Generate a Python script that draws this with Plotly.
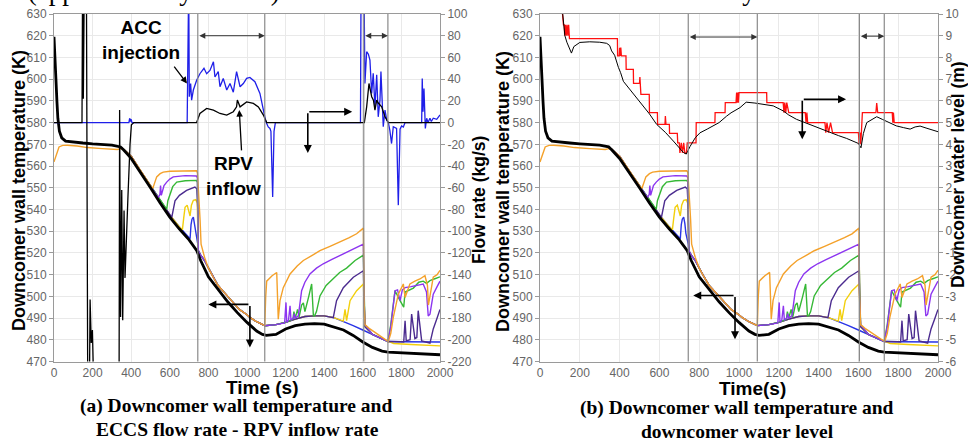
import plotly.graph_objects as go

W, H = 968, 441

# ---------------- data ----------------
TIME_TICKS = list(range(0, 2001, 200))
TEMP_TICKS = list(range(470, 631, 10))
FLOW_TICKS = list(range(-220, 101, 20))
LEVEL_TICKS = list(range(-6, 11, 1))
EVENT_TIMES = [745, 1092, 1605, 1730]

# Downcomer wall temperature (thick black), K
DCW_T = [0, 5, 10, 15, 20, 28, 40, 60, 100, 150, 200, 250, 300, 345, 360, 400, 450, 500, 550, 600, 650,
         700, 740, 760, 800, 850, 900, 950, 1000, 1050, 1080, 1100, 1150, 1200, 1250, 1300, 1350, 1400,
         1450, 1500, 1550, 1600, 1650, 1700, 1730, 1800, 1900, 2000]
DCW_V = [619.5, 612, 600, 590, 582, 576, 573, 571.5, 571, 570.6, 570.2, 570, 569.6, 568.8, 567.5, 563.5,
         557, 550, 543, 536.5, 531, 526, 521, 516.5, 509, 503, 497.5, 492.5, 488, 484, 482.5, 482, 482.5,
         485, 486.5, 487.2, 487.4, 487.2, 486, 484.5, 482, 479, 476.5, 474.8, 474.3, 474, 473.6, 473.1]

# shared segments of the thermocouple curves
DESC = [(350, 568.5), (400, 564.5), (450, 557.5), (500, 551), (550, 544), (600, 537.5), (650, 532), (700, 527)]
MID = [(748, 521), (760, 519), (780, 516.5), (800, 513), (825, 508.8), (850, 505), (900, 500), (929, 497.2),
       (960, 494), (1000, 491.5), (1015, 490.3), (1050, 488.3), (1085, 486.5), (1092, 486.5)]
BASE_LATE = [(1150, 487), (1200, 488), (1250, 489.5), (1300, 490.7), (1350, 491), (1400, 491), (1450, 490.2),
             (1500, 488.5), (1550, 486.5), (1600, 484.5)]
BASE_END = [(1650, 482.5), (1700, 480.5), (1730, 479.2)]
BASE_TAIL = [(1800, 479.1), (1900, 479), (2000, 479)]

ORANGE = [(0, 561.9), (8, 564), (14, 566), (26, 568.8), (45, 569.5), (69, 569.6), (120, 569.2), (173, 568.5),
          (250, 568), (328, 567.6), (345, 568), (360, 567.8), (400, 564.5), (450, 557.5), (500, 551),
          (512, 549.7), (520, 552), (532, 555), (550, 556.5), (566, 557.2), (600, 557.6), (653, 557.8),
          (700, 558), (738, 557.8), (743, 557), (748, 545), (752, 543), (757, 535), (762, 524), (780, 518),
          (800, 513), (825, 508.8), (850, 505), (900, 500), (929, 497.2), (960, 494), (1000, 491.5),
          (1015, 490.3), (1050, 488.3), (1085, 486.5), (1092, 486.5), (1097, 500), (1102, 507), (1130, 509.5),
          (1154, 511), (1162, 489.5), (1171, 498), (1188, 504), (1223, 510.3), (1260, 514), (1292, 516.5),
          (1340, 519), (1378, 521), (1430, 523), (1482, 525), (1530, 527), (1568, 528.8), (1603, 531.4),
          (1606, 500), (1611, 487), (1637, 485), (1660, 483.5), (1689, 482), (1710, 480.5), (1732, 479.2),
          (1745, 483), (1758, 490.3), (1784, 501), (1810, 505.7), (1819, 499.5), (1844, 505.7), (1870, 507),
          (1896, 508), (1922, 509.5), (1935, 505), (1940, 496), (1948, 500), (1965, 508.8), (1985, 510),
          (2000, 512)]

PURPLE_EXC = [(540, 545.5), (549, 547), (552, 551), (556, 546.5), (560, 548), (570, 551), (584, 552.6),
              (600, 554), (618, 555), (680, 555.6), (738, 555.4), (743, 554.5)]
PURPLE_LATE = [(1150, 487), (1195, 487.8), (1202, 497.2), (1206, 488), (1215, 489), (1223, 495.6), (1228, 489),
               (1240, 490), (1245, 492), (1250, 490), (1266, 491), (1283, 502.6), (1300, 506.5), (1326, 510.3),
               (1360, 513), (1395, 515), (1440, 517), (1482, 518.8), (1551, 521.8), (1603, 524), (1606, 500),
               (1611, 487)]
PURPLE_TAIL = [(1745, 486), (1767, 502.6), (1780, 503), (1793, 498), (1805, 503), (1819, 504), (1850, 504.5),
               (1879, 505), (1913, 505.7), (1930, 502), (1939, 491), (1948, 491.8), (1965, 501), (1985, 504.5),
               (2000, 507)]

GREEN_EXC = [(584, 540), (590, 544), (600, 547), (615, 550.5), (636, 552.6), (680, 553.2), (738, 553.4),
             (743, 552.5)]
GREEN_LATE = [(1150, 487), (1200, 488), (1238, 489.5), (1243, 493), (1250, 490), (1262, 494), (1270, 490.5),
              (1283, 496), (1292, 497), (1300, 493), (1320, 500), (1335, 505.7), (1344, 491), (1350, 491),
              (1360, 493), (1378, 500.2), (1410, 505), (1447, 508.3), (1480, 511), (1516, 513), (1560, 516.5),
              (1603, 519), (1606, 500), (1611, 487)]
GREEN_TAIL = [(1745, 487), (1767, 502.6), (1793, 498), (1812, 495), (1819, 502), (1862, 503.8), (1890, 506.5),
              (1913, 507), (1930, 506), (1948, 507.2), (1970, 508), (2000, 509)]

INDIGO_EXC = [(610, 536.3), (617, 539.5), (627, 544), (650, 546.5), (687, 548.8), (730, 550.3), (740, 549.5),
              (745, 540)]
INDIGO_LATE = [(1150, 487), (1200, 488), (1250, 489.5), (1300, 490.7), (1350, 491), (1400, 491), (1447, 490.2),
               (1464, 498), (1499, 504), (1551, 508.8), (1603, 511.8), (1606, 495), (1611, 486)]
INDIGO_TAIL = [(1800, 479.1), (1812, 479), (1819, 488.8), (1825, 479.5), (1845, 480), (1853, 491.8),
               (1870, 480.5), (1880, 481), (1887, 493.4), (1905, 479.5), (1948, 478.5), (1965, 485),
               (1985, 490), (2000, 494)]

YELLOW_EXC = [(665, 530.5), (672, 536), (679, 541), (690, 542), (700, 539), (705, 537), (712, 542), (722, 544.2),
              (735, 544.5), (742, 543)]
YELLOW_LATE = [(1150, 487), (1200, 488), (1250, 489.5), (1300, 490.7), (1350, 491), (1400, 491), (1450, 490.2),
               (1499, 488.6), (1508, 494), (1516, 488.8), (1534, 498), (1568, 502.6), (1603, 505.7), (1606, 495),
               (1611, 486)]
YELLOW_TAIL = [(1760, 478.3), (1850, 477.8), (2000, 477.2)]

BLUE_EXC = [(705, 526.5), (710, 533), (715, 535.5), (722, 536.5), (728, 533.5), (733, 529), (739, 527),
            (745, 524)]

# ECCS flow rate (blue) and RPV inflow (black), kg/s
ECCS_FLOW = [(0, 0), (388, 0), (392, 4), (396, 1), (400, 3), (404, 0), (690, 0), (693, 130), (698, 130),
             (701, 23.8), (708, 36), (713, 20.7), (722, 30), (739, 39), (756, 45), (777, 50), (791, 45),
             (808, 48), (826, 56), (834, 42), (851, 47), (860, 33), (877, 40.7), (895, 30), (912, 36),
             (929, 28), (938, 39), (946, 47), (964, 33), (981, 36), (998, 40.7), (1015, 41.6), (1041, 37.6),
             (1067, 26.8), (1085, 11.5), (1098, 0.7), (1110, -4), (1119, -5.4), (1124, -8), (1133, -68.5),
             (1140, -8), (1147, 0), (1588, 0), (1591, 130), (1606, 130), (1611, 36), (1620, 65.3),
             (1629, 63), (1637, 57.6), (1646, 26.8), (1654, 45.3), (1663, 14.5), (1672, 44), (1680, 5.3),
             (1689, 20.7), (1694, 47), (1706, -3.8), (1715, 11.5), (1724, 2.3), (1732, 0), (1740, -7),
             (1749, -19.3), (1758, -3.8), (1775, -5.4), (1784, -76), (1793, -6), (1801, -3), (1810, -4),
             (1819, 0), (1905, 0), (1908, 40.7), (1912, 10), (1917, 31.4), (1924, -5.4), (1931, 4),
             (1938, 0), (1948, 4), (1955, 1), (1965, 4), (1983, 3), (2000, 7)]
RPV_FLOW = [(0, 0), (145, 0), (148, 130), (152, 22), (157, 130), (168, 130), (175, -260), (183, -260),
            (187, -163), (193, -203), (199, -191), (204, -211), (208, -260), (337, -260), (340, 11.5),
            (345, -179), (351, -62), (356, -182), (363, -81), (368, -143), (376, -97), (383, -69), (394, -20),
            (401, -2), (414, 0), (739, 0), (756, 8.4), (791, 13), (826, 11.5), (860, 8.4), (895, 6.9),
            (929, 10), (946, 14.5), (950, 20.7), (964, 14.5), (998, 19), (1033, 17.6), (1059, 14.5),
            (1085, 6.9), (1102, 0), (1608, 0), (1620, 14.5), (1632, 36), (1646, 23.8), (1655, 20.7),
            (1663, 11.5), (1672, 20.7), (1680, 18), (1698, 14.5), (1715, 5.3), (1732, 0), (2000, 0)]

# Downcomer water level, m
LEVEL_RED = [(105, 10.8), (118, 9.5), (122, 9.5), (124, 9.0), (128, 9.5), (132, 9.0), (136, 9.5), (140, 9.0),
             (144, 9.5), (148, 8.87), (389, 8.87), (390, 8.07), (398, 8.07), (400, 8.45), (403, 8.07),
             (406, 8.45), (409, 8.07), (432, 8.07), (433, 7.45), (469, 7.45), (470, 6.81), (500, 6.81),
             (502, 7.1), (505, 6.81), (507, 6.3), (549, 6.3), (550, 5.46), (590, 5.46), (591, 4.92),
             (628, 4.92), (630, 5.3), (633, 4.92), (650, 4.92), (651, 4.5), (690, 4.5), (692, 4.07),
             (700, 4.07), (703, 3.6), (710, 4.07), (716, 3.6), (722, 4.07), (728, 3.6), (736, 3.6),
             (740, 4.07), (784, 4.07), (785, 5.0), (879, 5.0), (880, 5.46), (930, 5.46), (931, 5.92),
             (985, 5.92), (988, 6.38), (991, 5.92), (994, 6.38), (997, 5.92), (1000, 6.38), (1139, 6.38),
             (1140, 5.92), (1222, 5.92), (1226, 5.46), (1230, 5.92), (1235, 5.46), (1240, 5.92), (1250, 5.46),
             (1333, 5.46), (1337, 5.0), (1341, 5.46), (1345, 5.0), (1350, 5.0), (1432, 5.0), (1436, 4.54),
             (1442, 5.0), (1450, 4.54), (1460, 5.0), (1470, 4.54), (1600, 4.54), (1604, 4.0), (1608, 4.54),
             (1612, 4.0), (1620, 5.46), (1688, 5.46), (1692, 5.9), (1697, 5.46), (1770, 5.46), (1773, 5.0),
             (1776, 5.46), (1780, 5.0), (2000, 5.0)]
LEVEL_BLACK = [(112, 10.2), (125, 9.0), (135, 8.7), (150, 8.4), (158, 8.2), (170, 8.5), (200, 8.69),
               (250, 8.72), (300, 8.7), (335, 8.65), (350, 8.55), (360, 8.3), (375, 8.1), (394, 7.54),
               (405, 7.3), (419, 6.9), (450, 6.55), (503, 5.93), (550, 5.4), (586, 4.92), (630, 4.55),
               (670, 4.15), (700, 3.85), (720, 3.63), (735, 3.55), (745, 3.7), (754, 3.9), (780, 4.3),
               (804, 4.53), (840, 4.7), (871, 4.84), (900, 5.0), (938, 5.3), (960, 5.45), (1005, 5.69),
               (1036, 5.94), (1080, 5.9), (1122, 5.84), (1172, 5.77), (1222, 5.54), (1250, 5.35), (1289, 5.15),
               (1330, 5.0), (1373, 4.84), (1410, 4.7), (1457, 4.53), (1500, 4.4), (1541, 4.27), (1575, 4.15),
               (1600, 4.04), (1613, 3.84), (1625, 4.5), (1642, 5.0), (1670, 5.15), (1692, 5.27), (1720, 5.15),
               (1759, 5.0), (1790, 4.85), (1826, 4.77), (1860, 4.7), (1885, 4.8), (1910, 4.84), (1940, 4.75),
               (1977, 4.66), (2000, 4.58)]

# assembled thermocouple curves
TC = [
    ("#2a34e6", DESC + BLUE_EXC + MID + BASE_LATE + [(1605, 484.3)] + BASE_END + BASE_TAIL),
    ("#f2cf0c", DESC[:6] + [(650, 532)] + YELLOW_EXC + MID + YELLOW_LATE + BASE_END + YELLOW_TAIL),
    ("#4b2b8f", DESC[:6] + INDIGO_EXC + MID + INDIGO_LATE + BASE_END + INDIGO_TAIL),
    ("#35b835", DESC[:5] + GREEN_EXC + MID + GREEN_LATE + BASE_END + GREEN_TAIL),
    ("#8c35f0", DESC[:4] + PURPLE_EXC + MID + PURPLE_LATE + BASE_END + PURPLE_TAIL),
    ("#f4a12a", ORANGE),
]


def px(x):
    return x / W


def py(y):
    return 1 - y / H


def xs(pairs):
    return [p[0] for p in pairs]


def ys(pairs):
    return [p[1] for p in pairs]


fig = go.Figure()
for xa, ya in (("x", "y"), ("x2", "y3")):
    for color, pts in TC:
        fig.add_trace(go.Scatter(x=xs(pts), y=ys(pts), mode="lines", xaxis=xa, yaxis=ya,
                                 line=dict(color=color, width=1.4), hoverinfo="skip"))
    fig.add_trace(go.Scatter(x=DCW_T, y=DCW_V, mode="lines", xaxis=xa, yaxis=ya,
                             line=dict(color="black", width=2.8), hoverinfo="skip"))

fig.add_trace(go.Scatter(x=xs(ECCS_FLOW), y=ys(ECCS_FLOW), mode="lines", xaxis="x", yaxis="y2",
                         line=dict(color="#1f1fe8", width=1.3)))
fig.add_trace(go.Scatter(x=xs(RPV_FLOW), y=ys(RPV_FLOW), mode="lines", xaxis="x", yaxis="y2",
                         line=dict(color="black", width=1.3)))
fig.add_trace(go.Scatter(x=xs(LEVEL_RED), y=ys(LEVEL_RED), mode="lines", xaxis="x2", yaxis="y4",
                         line=dict(color="#ff1010", width=1.3)))
fig.add_trace(go.Scatter(x=xs(LEVEL_BLACK), y=ys(LEVEL_BLACK), mode="lines", xaxis="x2", yaxis="y4",
                         line=dict(color="black", width=1.0)))

TICKFONT = dict(family="Liberation Sans", size=12, color="#666")
GRID = "#e9e9e9"
LINE = "#9a9a9a"


def xaxis(dom, anchor):
    return dict(domain=dom, anchor=anchor, range=[0, 2000], tickvals=TIME_TICKS, showgrid=True,
                gridcolor=GRID, showline=True, linecolor=LINE, mirror=True, ticks="", zeroline=False,
                tickfont=TICKFONT, automargin=False, fixedrange=True)


def yleft(anchor, dom):
    return dict(domain=dom, anchor=anchor, range=[470, 630], tickvals=TEMP_TICKS, showgrid=True,
                gridcolor=GRID, showline=True, linecolor=LINE, ticks="outside", ticklen=4, tickcolor=LINE,
                zeroline=False, tickfont=TICKFONT, automargin=False)


def yright(over, anchor, rng, vals):
    return dict(overlaying=over, anchor=anchor, side="right", range=rng, tickvals=vals,
                ticktext=[str(v) for v in vals], showgrid=False, showline=True, linecolor=LINE,
                ticks="outside", ticklen=4, tickcolor=LINE, zeroline=False, tickfont=TICKFONT,
                automargin=False)


YDOM = [py(361.5), py(14)]
fig.update_layout(
    width=W, height=H, margin=dict(l=0, r=0, t=0, b=0), showlegend=False,
    paper_bgcolor="white", plot_bgcolor="white",
    xaxis=xaxis([px(54), px(440)], "y"),
    yaxis=yleft("x", YDOM),
    yaxis2=yright("y", "x", [-220, 100], FLOW_TICKS),
    xaxis2=xaxis([px(540), px(938)], "y3"),
    yaxis3=yleft("x2", YDOM),
    yaxis4=yright("y3", "x2", [-6, 10], LEVEL_TICKS),
)

shapes = []
for xa, ya in (("x", "y"), ("x2", "y3")):
    for t in EVENT_TIMES:
        shapes.append(dict(type="line", xref=xa, yref=ya + " domain", x0=t, x1=t, y0=0, y1=1,
                           line=dict(color="#8a8a8a", width=1.2)))
fig.update_layout(shapes=shapes)


def arrow(x, y, ax, ay, xref, yref, both=False, width=1.6, color="black", size=1.0):
    return dict(x=x, y=y, ax=ax, ay=ay, xref=xref, yref=yref, axref=xref, ayref=yref, text="",
                showarrow=True, arrowhead=2, arrowsize=size, arrowwidth=width, arrowcolor=color,
                arrowside="end+start" if both else "end", startarrowhead=2, startarrowsize=size)


def label(x, y, text, size, family="Liberation Sans", angle=0, color="black"):
    return dict(x=px(x), y=py(y), xref="paper", yref="paper", text=text, showarrow=False,
                textangle=angle, xanchor="center", yanchor="middle",
                font=dict(family=family, size=size, color=color))


ann = [
    # left panel arrows
    arrow(1092, 80, 745, 80, "x", "y2", both=True, width=1.0, color="#333", size=1.2),
    arrow(1730, 80, 1605, 80, "x", "y2", both=True, width=1.0, color="#333", size=1.2),
    arrow(1315, -28, 1315, 10, "x", "y2"),
    arrow(1545, 10, 1315, 10, "x", "y2"),
    arrow(800, 496.3, 1015, 496.3, "x", "y"),
    arrow(1015, 476.5, 1015, 496.3, "x", "y"),
    arrow(689, 36, 617, 53, "x", "y2", width=1.3),
    arrow(960, 11.5, 972, -27, "x", "y2", width=1.3),
    # right panel arrows
    arrow(1092, 8.94, 745, 8.94, "x2", "y4", both=True, width=1.0, color="#333", size=1.2),
    arrow(1730, 8.98, 1605, 8.98, "x2", "y4", both=True, width=1.0, color="#333", size=1.2),
    arrow(1318, 4.23, 1318, 6.07, "x2", "y4"),
    arrow(1538, 6.07, 1318, 6.07, "x2", "y4"),
    arrow(770, 500.4, 980, 500.4, "x2", "y3"),
    arrow(980, 480.2, 980, 500.4, "x2", "y3"),
    # texts
    label(141, 40, "<b>ACC<br>injection</b>", 19),
    label(233, 176, "<b>RPV<br>inflow</b>", 19),
    label(19, 191, "<b>Downcomer wall temperature (K)</b>", 18, angle=-90),
    label(479, 200, "<b>Flow rate (kg/s)</b>", 17.5, angle=-90),
    label(503, 191, "<b>Downcomer wall temperature (K)</b>", 18, angle=-90),
    label(958, 175, "<b>Downcomer water level (m)</b>", 17.5, angle=-90),
    label(262, 387, "<b>Time (s)</b>", 19),
    label(752, 388, "<b>Time(s)</b>", 19),
    label(236, 406, "<b>(a) Downcomer wall temperature and</b>", 19.5, family="Liberation Serif"),
    label(237, 429, "<b>ECCS flow rate - RPV inflow rate</b>", 19.5, family="Liberation Serif"),
    label(737, 408, "<b>(b) Downcomer wall temperature and</b>", 19.5, family="Liberation Serif"),
    label(737, 431, "<b>downcomer water level</b>", 19.5, family="Liberation Serif"),
    dict(x=px(-2), y=py(-9), xref="paper", yref="paper", xanchor="left", yanchor="middle", showarrow=False,
         text="re (approximately 1000 s) almost coincides with the onset of recovery of the DCW",
         font=dict(family="Liberation Serif", size=27, color="black")),
]
fig.update_layout(annotations=ann)

fig.write_html("out.html")
